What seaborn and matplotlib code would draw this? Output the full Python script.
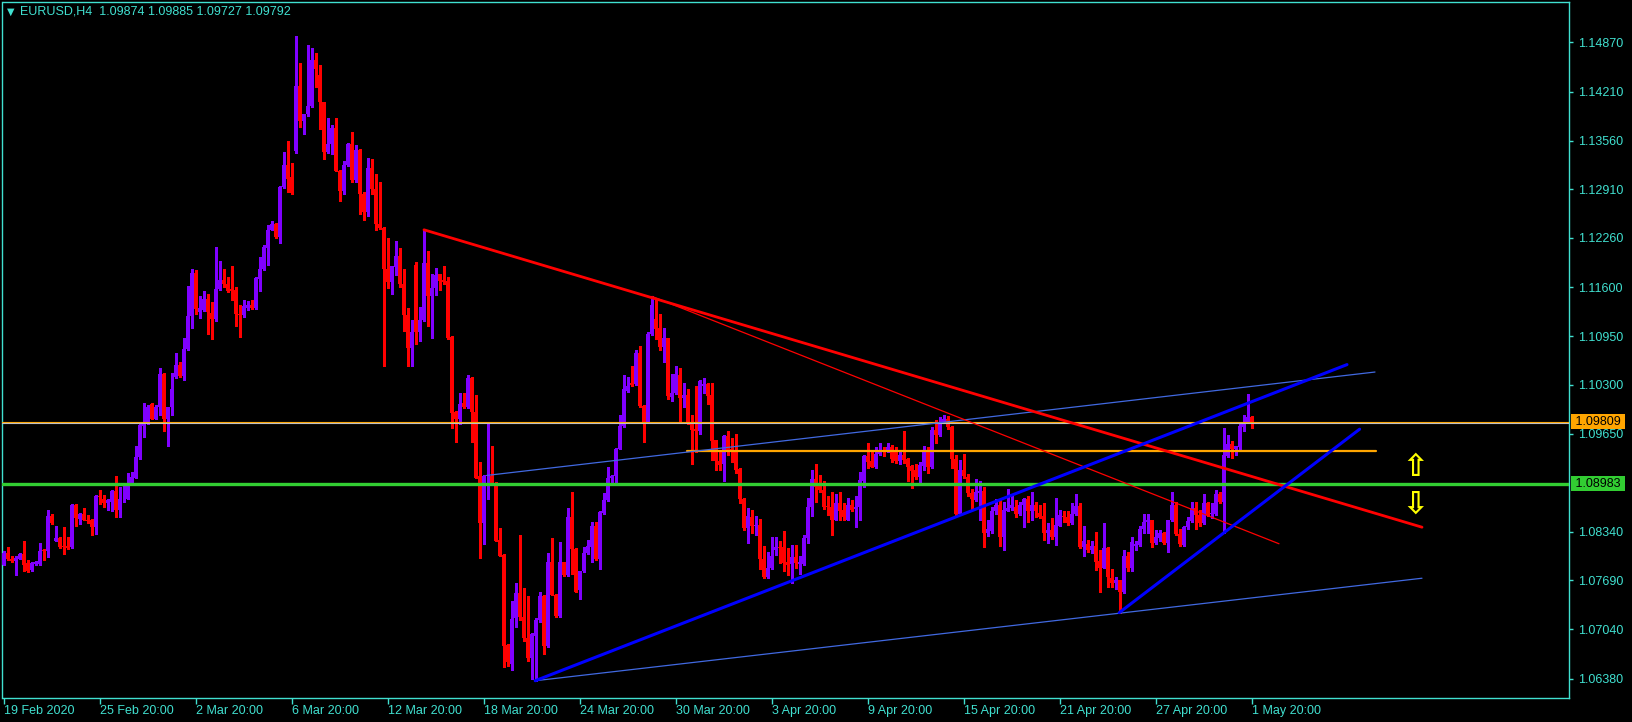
import numpy as np
import pandas as pd
import matplotlib
matplotlib.use("Agg")
import matplotlib.pyplot as plt
import seaborn as sns

# ===== EURUSD H4 candles, in pips (price x 10000) =====
# bar 0 = 19 Feb 20:00, bar 312 = 1 May 20:00
opens = [
    10790, 10806, 10798, 10795, 10798, 10804, 10792, 10783, 10791, 10791,
    10809, 10808, 10855, 10822, 10826, 10815, 10815, 10813, 10870, 10851,
    10857, 10850, 10850, 10840, 10881, 10877, 10872, 10873, 10888, 10863,
    10877, 10878, 10899, 10906, 10934, 10975, 10981, 11004, 10985, 11000,
    11045, 10985, 11000, 11040, 11056, 11042, 11078, 11122, 11179, 11127,
    11130, 11144, 11126, 11118, 11158, 11170, 11165, 11158, 11157, 11125,
    11123, 11133, 11137, 11133, 11171, 11185, 11213, 11237, 11245, 11227,
    11294, 11323, 11307, 11342, 11429, 11382, 11391, 11402, 11463, 11443,
    11407, 11341, 11352, 11373, 11316, 11289, 11323, 11351, 11303, 11344,
    11285, 11260, 11319, 11292, 11244, 11239, 11185, 11167, 11187, 11202,
    11165, 11123, 11079, 11190, 11101, 11117, 11192, 11148, 11159, 11178,
    11170, 11169, 11094, 10994, 10985, 11006, 11000, 11039, 10994, 10909,
    10846, 10908, 10909, 10899, 10823, 10803, 10683, 10657, 10719, 10752,
    10720, 10692, 10665, 10695, 10716, 10748, 10682, 10793, 10750, 10722,
    10793, 10776, 10853, 10811, 10756, 10781, 10805, 10814, 10842, 10797,
    10859, 10876, 10905, 10908, 10945, 10975, 11022, 11033, 11031, 11073,
    11002, 10981, 11098, 11118, 11106, 11080, 11092, 11014, 11019, 11043,
    11012, 11016, 10979, 10971, 10969, 11028, 11031, 11016, 10956, 10929,
    10924, 10962, 10944, 10943, 10918, 10878, 10839, 10853, 10841, 10843,
    10797, 10774, 10785, 10809, 10814, 10813, 10793, 10791, 10800, 10791,
    10791, 10825, 10867, 10904, 10896, 10890, 10868, 10867, 10850, 10872,
    10863, 10850, 10870, 10864, 10867, 10902, 10935, 10928, 10921, 10938,
    10942, 10941, 10947, 10943, 10928, 10936, 10931, 10922, 10916, 10907,
    10922, 10943, 10921, 10970, 10963, 10980, 10985, 10974, 10931, 10858,
    10916, 10907, 10885, 10876, 10885, 10888, 10832, 10835, 10861, 10870,
    10827, 10862, 10866, 10867, 10858, 10870, 10877, 10861, 10870, 10859,
    10855, 10832, 10836, 10827, 10842, 10855, 10854, 10845, 10858, 10868,
    10814, 10818, 10810, 10815, 10795, 10786, 10812, 10772, 10765, 10769,
    10754, 10801, 10786, 10815, 10816, 10837, 10847, 10849, 10819, 10825,
    10832, 10819, 10849, 10870, 10831, 10816, 10840, 10848, 10865, 10856,
    10846, 10872, 10857, 10858, 10884, 10874, 10935, 10951, 10944, 10947,
    10974, 10980, 10987,
]
highs = [
    10808, 10814, 10801, 10801, 10806, 10822, 10796, 10794, 10795, 10819,
    10811, 10863, 10858, 10842, 10827, 10840, 10827, 10871, 10871, 10859,
    10866, 10856, 10851, 10883, 10890, 10883, 10877, 10890, 10909, 10894,
    10896, 10912, 10914, 10948, 10978, 11006, 11003, 11006, 11003, 11052,
    11046, 11001, 11046, 11073, 11061, 11092, 11162, 11185, 11183, 11148,
    11155, 11151, 11140, 11214, 11195, 11185, 11174, 11188, 11160, 11136,
    11143, 11142, 11143, 11174, 11201, 11217, 11243, 11249, 11246, 11295,
    11341, 11355, 11326, 11495, 11460, 11392, 11484, 11480, 11473, 11457,
    11408, 11386, 11377, 11386, 11317, 11329, 11353, 11368, 11350, 11345,
    11288, 11333, 11332, 11311, 11301, 11241, 11226, 11189, 11222, 11213,
    11185, 11132, 11117, 11194, 11134, 11237, 11209, 11178, 11186, 11178,
    11188, 11174, 11095, 10995, 11019, 11019, 11043, 11040, 11016, 10927,
    10910, 10978, 10948, 10900, 10839, 10804, 10684, 10742, 10766, 10829,
    10759, 10748, 10699, 10719, 10754, 10750, 10805, 10826, 10751, 10820,
    10794, 10865, 10887, 10812, 10782, 10814, 10823, 10847, 10847, 10861,
    10885, 10921, 10910, 10946, 10990, 11043, 11040, 11055, 11076, 11082,
    11003, 11100, 11148, 11145, 11124, 11106, 11093, 11045, 11055, 11052,
    11032, 11024, 10990, 11028, 11036, 11039, 11032, 11032, 10957, 10941,
    10963, 10968, 10959, 10964, 10919, 10879, 10865, 10863, 10855, 10851,
    10815, 10807, 10827, 10827, 10821, 10835, 10812, 10816, 10816, 10801,
    10830, 10879, 10916, 10925, 10910, 10901, 10881, 10887, 10884, 10887,
    10872, 10879, 10876, 10882, 10914, 10936, 10952, 10941, 10947, 10952,
    10947, 10953, 10950, 10947, 10940, 10968, 10932, 10923, 10925, 10927,
    10948, 10947, 10974, 10983, 10987, 10990, 10988, 10975, 10936, 10930,
    10938, 10911, 10891, 10904, 10901, 10894, 10850, 10867, 10877, 10877,
    10873, 10891, 10883, 10876, 10873, 10879, 10881, 10887, 10874, 10870,
    10872, 10845, 10852, 10879, 10863, 10861, 10861, 10872, 10884, 10872,
    10841, 10823, 10821, 10834, 10810, 10845, 10813, 10784, 10773, 10770,
    10809, 10807, 10827, 10821, 10841, 10858, 10858, 10850, 10836, 10836,
    10834, 10850, 10887, 10873, 10838, 10841, 10854, 10873, 10873, 10863,
    10884, 10874, 10872, 10890, 10887, 10972, 10963, 10955, 10949, 10979,
    10990, 11018, 10989,
]
lows = [
    10789, 10796, 10793, 10776, 10797, 10781, 10780, 10782, 10790, 10789,
    10796, 10800, 10844, 10821, 10812, 10804, 10811, 10812, 10841, 10844,
    10849, 10846, 10830, 10831, 10871, 10867, 10863, 10862, 10854, 10854,
    10874, 10877, 10898, 10905, 10931, 10961, 10978, 10984, 10984, 10990,
    10968, 10949, 10990, 11039, 11041, 11037, 11076, 11106, 11124, 11119,
    11129, 11098, 11091, 11115, 11157, 11161, 11154, 11143, 11109, 11094,
    11121, 11130, 11131, 11131, 11155, 11183, 11190, 11236, 11226, 11219,
    11293, 11288, 11285, 11340, 11374, 11365, 11389, 11401, 11428, 11371,
    11332, 11340, 11338, 11315, 11276, 11285, 11322, 11301, 11301, 11258,
    11250, 11255, 11285, 11237, 11238, 11055, 11159, 11151, 11176, 11161,
    11102, 11055, 11055, 11085, 11088, 11115, 11108, 11093, 11150, 11156,
    11164, 11091, 10972, 10954, 10978, 10999, 10999, 10954, 10905, 10799,
    10817, 10877, 10898, 10821, 10801, 10653, 10655, 10650, 10707, 10716,
    10688, 10662, 10638, 10635, 10714, 10671, 10680, 10749, 10720, 10720,
    10775, 10775, 10778, 10753, 10744, 10780, 10804, 10793, 10796, 10784,
    10857, 10875, 10900, 10897, 10944, 10974, 11021, 11029, 11030, 11000,
    10954, 10980, 11097, 11091, 11076, 11061, 11011, 11009, 11018, 10982,
    11000, 10978, 10925, 10941, 10964, 11019, 11005, 10930, 10916, 10916,
    10901, 10936, 10927, 10913, 10872, 10836, 10819, 10832, 10830, 10784,
    10772, 10772, 10784, 10803, 10792, 10781, 10776, 10766, 10785, 10778,
    10790, 10819, 10855, 10874, 10887, 10864, 10856, 10830, 10849, 10849,
    10850, 10849, 10862, 10840, 10849, 10893, 10919, 10920, 10919, 10937,
    10935, 10940, 10927, 10926, 10925, 10926, 10902, 10892, 10904, 10899,
    10916, 10913, 10919, 10952, 10962, 10979, 10971, 10919, 10855, 10857,
    10905, 10881, 10863, 10875, 10850, 10814, 10828, 10832, 10858, 10815,
    10810, 10861, 10863, 10854, 10856, 10840, 10847, 10849, 10854, 10852,
    10823, 10819, 10824, 10816, 10841, 10847, 10843, 10844, 10856, 10812,
    10801, 10807, 10806, 10783, 10754, 10785, 10760, 10760, 10758, 10726,
    10752, 10782, 10782, 10810, 10815, 10832, 10832, 10814, 10818, 10821,
    10818, 10807, 10848, 10830, 10815, 10815, 10837, 10847, 10837, 10842,
    10844, 10855, 10852, 10856, 10872, 10832, 10934, 10933, 10936, 10944,
    10968, 10979, 10973,
]
closes = [
    10806, 10798, 10795, 10799, 10804, 10790, 10781, 10792, 10793, 10808,
    10808, 10855, 10845, 10826, 10813, 10813, 10812, 10870, 10852, 10857,
    10850, 10848, 10840, 10882, 10880, 10872, 10876, 10888, 10863, 10878,
    10878, 10899, 10907, 10934, 10977, 10978, 11000, 10985, 11000, 11045,
    10985, 11000, 11024, 11056, 11042, 11078, 11122, 11179, 11131, 11133,
    11144, 11127, 11118, 11158, 11170, 11165, 11155, 11155, 11124, 11123,
    11135, 11137, 11133, 11173, 11185, 11214, 11237, 11245, 11227, 11294,
    11323, 11305, 11286, 11429, 11382, 11391, 11402, 11463, 11451, 11407,
    11341, 11352, 11373, 11316, 11289, 11323, 11351, 11303, 11344, 11285,
    11260, 11319, 11292, 11244, 11239, 11185, 11167, 11188, 11202, 11165,
    11123, 11079, 11100, 11100, 11117, 11192, 11148, 11159, 11176, 11168,
    11167, 11093, 10993, 10985, 11005, 11000, 11039, 10994, 10906, 10846,
    10909, 10910, 10899, 10822, 10802, 10682, 10660, 10717, 10752, 10720,
    10692, 10665, 10698, 10716, 10748, 10682, 10793, 10750, 10722, 10793,
    10776, 10853, 10811, 10754, 10781, 10806, 10815, 10842, 10797, 10860,
    10876, 10906, 10909, 10945, 10975, 11024, 11028, 11030, 11073, 11002,
    10981, 11098, 11136, 11104, 11080, 11092, 11015, 11019, 11044, 11012,
    11016, 10979, 10970, 10969, 11035, 11031, 11015, 10955, 10929, 10923,
    10962, 10941, 10942, 10917, 10878, 10839, 10855, 10841, 10843, 10797,
    10774, 10785, 10802, 10813, 10812, 10792, 10790, 10800, 10792, 10793,
    10825, 10867, 10904, 10894, 10890, 10867, 10867, 10850, 10872, 10862,
    10853, 10870, 10863, 10867, 10903, 10935, 10927, 10921, 10938, 10942,
    10941, 10947, 10931, 10928, 10936, 10930, 10921, 10915, 10907, 10923,
    10943, 10921, 10970, 10963, 10981, 10985, 10974, 10931, 10858, 10916,
    10908, 10885, 10877, 10887, 10888, 10832, 10837, 10862, 10870, 10827,
    10863, 10865, 10870, 10858, 10870, 10877, 10861, 10870, 10861, 10854,
    10832, 10836, 10827, 10843, 10856, 10853, 10845, 10858, 10868, 10814,
    10822, 10809, 10815, 10794, 10786, 10812, 10773, 10765, 10770, 10754,
    10801, 10786, 10820, 10817, 10837, 10847, 10850, 10819, 10827, 10832,
    10819, 10849, 10870, 10831, 10818, 10840, 10848, 10865, 10856, 10846,
    10872, 10856, 10859, 10884, 10874, 10936, 10951, 10944, 10948, 10975,
    10980, 10987, 10979,
]

# time labels (one every 24 H4 bars)
date_labels = ["19 Feb 2020", "25 Feb 20:00", "2 Mar 20:00", "6 Mar 20:00",
               "12 Mar 20:00", "18 Mar 20:00", "24 Mar 20:00", "30 Mar 20:00",
               "3 Apr 20:00", "9 Apr 20:00", "15 Apr 20:00", "21 Apr 20:00",
               "27 Apr 20:00", "1 May 20:00"]
label_bars = list(range(0, 313, 24))

price_ticks = [1.14870, 1.14210, 1.13560, 1.12910, 1.12260, 1.11600, 1.10950,
               1.10300, 1.09650, 1.08340, 1.07690, 1.07040, 1.06380]

header = "EURUSD,H4  1.09874 1.09885 1.09727 1.09792"

# drawn objects: (bar, price) end points
red_main = [(105, 1.12369), (354.5, 1.08400)]
red_thin = [(162, 1.11480), (318.75, 1.08179)]
blue_main = [(132.8, 1.06351), (335.75, 1.10570)]
blue_short = [(278.8, 1.07259), (338.9, 1.09708)]
blue_upper = [(120.7, 1.09091), (342.75, 1.10471)]
blue_lower = [(132.8, 1.06351), (354.5, 1.07719)]
orange_seg = [(170.75, 1.09417), (342.9, 1.09417)]
green_level = 1.08983
orange_level = 1.09809
bid_level = 1.09792
arrow_up = (352.75, 1.09200)
arrow_down = (352.75, 1.08700)

FG = "#40e0d0"
BULL = "#8000ff"
BEAR = "#ff0000"

sns.set_theme(style="dark", rc={
    "axes.facecolor": "black", "figure.facecolor": "black",
    "axes.edgecolor": FG, "axes.linewidth": 1.0, "axes.grid": False,
    "xtick.color": FG, "ytick.color": FG,
})
plt.rcParams["font.family"] = ["Liberation Sans", "DejaVu Sans"]

W, H = 1633, 722
fig = plt.figure(figsize=(W / 100, H / 100), dpi=100)
ax = fig.add_axes([2.5 / W, 24 / H, 1567 / W, 696 / H])

df = pd.DataFrame({"open": opens, "high": highs, "low": lows, "close": closes}) / 10000.0
df["bar"] = np.arange(len(df))
df["high"] = df[["high", "open", "close"]].max(axis=1)
df["low"] = df[["low", "open", "close"]].min(axis=1)
colors = np.where(df["close"] >= df["open"], BULL, BEAR)

# candles
ax.vlines(df["bar"], df["low"], df["high"], colors=colors, linewidth=0.8,
          antialiased=False, zorder=3)
body_low = df[["open", "close"]].min(axis=1)
body_h = (df["close"] - df["open"]).abs().clip(lower=0.00012)
ax.bar(df["bar"], body_h, bottom=body_low, width=0.82, color=colors,
       linewidth=0, antialiased=False, zorder=4)

# horizontal levels
ax.axhline(orange_level, color="#ffa500", linewidth=0.8, zorder=5)
ax.axhline(bid_level, color="#c0c0c0", linewidth=0.8, zorder=6)
ax.axhline(green_level, color="#32cd32", linewidth=2.4, zorder=6)


def trend(points, color, lw):
    xs = [p[0] for p in points]
    ys = [p[1] for p in points]
    sns.lineplot(x=xs, y=ys, color=color, linewidth=lw, ax=ax, zorder=7)


trend(orange_seg, "#ffa500", 1.6)
trend(blue_upper, "#4169e1", 0.9)
trend(blue_lower, "#4169e1", 0.9)
trend(red_thin, "#ff0000", 0.9)
trend(red_main, "#ff0000", 2.0)
trend(blue_main, "#0000ff", 2.2)
trend(blue_short, "#0000ff", 2.2)

# up / down arrows
for (bx, by), glyph in [(arrow_up, "\u21e7"), (arrow_down, "\u21e9")]:
    ax.text(bx, by, glyph, color="#ffff00", fontsize=22, fontweight="bold",
            ha="center", va="center", family=["DejaVu Sans"], zorder=8)

# axes, ticks
ax.set_xlim(-0.375, 391.375)
ax.set_ylim(1.061206, 1.154092)
ax.yaxis.tick_right()
ax.set_yticks(price_ticks)
ax.set_yticklabels([f"{p:.5f}" for p in price_ticks])
ax.set_xticks(label_bars)
ax.set_xticklabels(date_labels, ha="left")
ax.tick_params(axis="y", direction="out", length=3, width=1, color=FG,
               labelcolor=FG, labelsize=9, pad=3, right=True, left=False)
ax.tick_params(axis="x", direction="out", length=4, width=1, color=FG,
               labelcolor=FG, labelsize=9, pad=1, bottom=True)
for s in ax.spines.values():
    s.set_color(FG)
    s.set_linewidth(1.0)
ax.set_xlabel("")
ax.set_ylabel("")

# price labels of the horizontal lines
for level, col in [(orange_level, "#ffa500"), (green_level, "#32cd32")]:
    ax.text(1.0015, level, f" {level:.5f} ", transform=ax.get_yaxis_transform(),
            ha="left", va="center", fontsize=9, color="black", clip_on=False,
            bbox=dict(boxstyle="square,pad=0.1", facecolor=col, edgecolor="none"),
            zorder=10)

# header
fig.text(7 / W, 1 - 12 / H, "\u25bc", color=FG, fontsize=7, ha="left", va="center",
         family=["DejaVu Sans"])
fig.text(20 / W, 1 - 12 / H, header, color=FG, fontsize=9, ha="left", va="center")

fig.savefig("out.png", dpi=100, facecolor="black")
